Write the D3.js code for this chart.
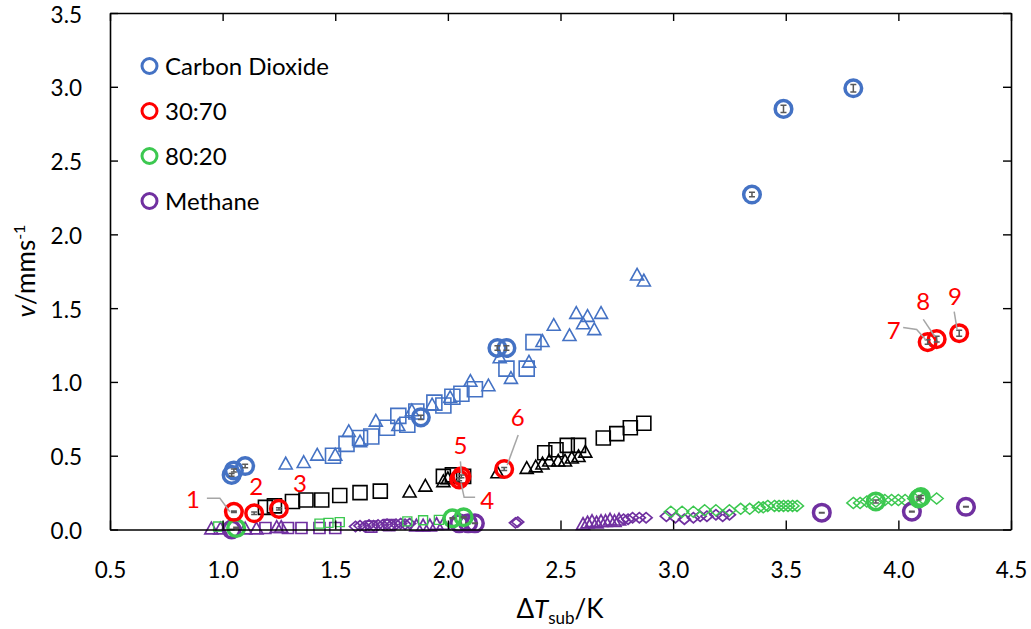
<!DOCTYPE html>
<html>
<head>
<meta charset="utf-8">
<script src="https://cdn.jsdelivr.net/npm/d3@7"></script>
<style>
  body { margin: 0; background: #fff; }
  svg text { font-family: Lato, "Open Sans", "Noto Sans", sans-serif; }
</style>
</head>
<body>
<svg id="chart" width="1031" height="629"></svg>
<script>
// ---------------- data ----------------
const xTickValues = [0.5, 1.0, 1.5, 2.0, 2.5, 3.0, 3.5, 4.0, 4.5];
const yTickValues = [0.0, 0.5, 1.0, 1.5, 2.0, 2.5, 3.0, 3.5];

const legendNames = ["Carbon Dioxide", "30:70", "80:20", "Methane"];

// Carbon dioxide: averaged points (circles) with error
const co2X   = [1.04, 1.05, 1.10, 1.88, 2.22, 2.26, 3.35, 3.49, 3.80];
const co2Y   = [0.37, 0.40, 0.43, 0.76, 1.23, 1.23, 2.27, 2.85, 2.99];
const co2Err = [0.010, 0.010, 0.012, 0.015, 0.015, 0.015, 0.015, 0.025, 0.025];

// 30:70 mixture: averaged points, numbered 1-9
const mixAX   = [1.05, 1.14, 1.25, 2.05, 2.06, 2.25, 4.13, 4.17, 4.27];
const mixAY   = [0.12, 0.11, 0.14, 0.34, 0.36, 0.41, 1.27, 1.29, 1.33];
const mixAErr = [0.005, 0.008, 0.008, 0.01, 0.01, 0.01, 0.015, 0.02, 0.02];
const mixALabels = ["1", "2", "3", "4", "5", "6", "7", "8", "9"];

// 80:20 mixture: averaged points
const mixBX   = [1.06, 2.02, 2.07, 3.90, 4.09, 4.10];
const mixBY   = [0.01, 0.076, 0.083, 0.19, 0.21, 0.22];
const mixBErr = [0.005, 0.004, 0.004, 0.01, 0.01, 0.01];

// Methane: averaged points
const ch4X   = [1.04, 2.05, 2.09, 2.12, 3.66, 4.06, 4.30];
const ch4Y   = [0.00, 0.042, 0.042, 0.042, 0.114, 0.121, 0.154];
const ch4Err = [0.002, 0.002, 0.002, 0.002, 0.002, 0.002, 0.002];

// Individual runs
const co2TriX = [1.28, 1.36, 1.42, 1.50, 1.56, 1.61, 1.68, 1.78, 1.84, 1.93, 2.01, 2.10, 2.18,
                 2.23, 2.28, 2.36, 2.42, 2.47, 2.54, 2.57, 2.60, 2.62, 2.65, 2.68, 2.84, 2.87];
const co2TriY = [0.45, 0.46, 0.51, 0.51, 0.67, 0.60, 0.74, 0.71, 0.81, 0.85, 0.90, 1.01, 0.98,
                 1.17, 1.03, 1.14, 1.28, 1.39, 1.32, 1.47, 1.40, 1.45, 1.36, 1.47, 1.73, 1.69];
const co2SqX = [1.49, 1.55, 1.61, 1.66, 1.73, 1.78, 1.82, 1.86, 1.94, 1.98, 2.02, 2.06, 2.12, 2.26, 2.35, 2.38];
const co2SqY = [0.50, 0.58, 0.62, 0.63, 0.69, 0.77, 0.71, 0.80, 0.86, 0.84, 0.90, 0.92, 0.95, 1.09, 1.09, 1.27];

const mixASqX = [1.19, 1.23, 1.31, 1.37, 1.44, 1.52, 1.61, 1.70, 1.98, 2.02, 2.07,
                 2.43, 2.48, 2.53, 2.58, 2.69, 2.75, 2.81, 2.87];
const mixASqY = [0.15, 0.16, 0.19, 0.20, 0.20, 0.23, 0.25, 0.26, 0.36, 0.37, 0.36,
                 0.52, 0.54, 0.57, 0.57, 0.62, 0.65, 0.69, 0.72];
const mixATriX = [1.83, 1.90, 1.98, 2.00, 2.22, 2.35, 2.39, 2.42, 2.45, 2.49, 2.52, 2.55, 2.58, 2.61];
const mixATriY = [0.26, 0.30, 0.33, 0.35, 0.39, 0.42, 0.43, 0.45, 0.47, 0.47, 0.47, 0.49, 0.50, 0.53];

const mixBSqX = [0.98, 1.43, 1.47, 1.52, 1.82, 1.89, 1.96];
const mixBSqY = [0.02, 0.04, 0.045, 0.05, 0.055, 0.063, 0.065];
const mixBDiaX = [2.99, 3.04, 3.09, 3.14, 3.19, 3.25, 3.30, 3.34, 3.38, 3.40, 3.42, 3.45, 3.47,
                  3.49, 3.51, 3.53, 3.55, 3.80, 3.83, 3.86, 3.90, 3.94, 3.97, 4.00, 4.03, 4.07, 4.11, 4.17];
const mixBDiaY = [0.12, 0.12, 0.12, 0.13, 0.13, 0.13, 0.14, 0.14, 0.15, 0.15, 0.16, 0.16, 0.16,
                  0.16, 0.16, 0.16, 0.16, 0.18, 0.18, 0.19, 0.19, 0.20, 0.20, 0.20, 0.20, 0.21, 0.21, 0.21];

const ch4TriX = [0.95, 0.99, 1.10, 1.15, 1.24, 1.26, 1.86, 1.89, 1.92, 1.95, 1.98,
                 2.60, 2.62, 2.64, 2.66, 2.68, 2.70, 2.72, 2.74, 2.76];
const ch4TriY = [0.01, 0.01, 0.01, 0.01, 0.02, 0.02, 0.03, 0.03, 0.03, 0.04, 0.04,
                 0.04, 0.05, 0.06, 0.05, 0.06, 0.06, 0.07, 0.06, 0.07];
const ch4SqX = [1.19, 1.29, 1.35, 1.43, 1.50, 1.66, 1.74];
const ch4SqY = [0.01, 0.01, 0.01, 0.01, 0.01, 0.02, 0.03];
const ch4DiaX = [1.59, 1.61, 1.63, 1.65, 1.67, 1.69, 1.71, 1.73, 1.75, 1.77, 1.79, 1.81, 1.83,
                 2.30, 2.31, 2.78, 2.80, 2.82, 2.85, 2.88, 2.97, 3.01, 3.05, 3.09, 3.12, 3.15, 3.19, 3.22, 3.25];
const ch4DiaY = [0.02, 0.025, 0.02, 0.03, 0.025, 0.03, 0.03, 0.035, 0.03, 0.035, 0.04, 0.035, 0.04,
                 0.045, 0.05, 0.07, 0.07, 0.08, 0.08, 0.08, 0.09, 0.08, 0.07, 0.08, 0.09, 0.09, 0.10, 0.09, 0.10];

// ---------------- layout ----------------
const COLORS = { co2: "#4472C4", mixA: "#FF0000", mixB: "#3CC850", ch4: "#7030A0", black: "#000000" };
const svg = d3.select("#chart");
const x = d3.scaleLinear().domain([0.5, 4.5]).range([110, 1011]);
const y = d3.scaleLinear().domain([0, 3.5]).range([529.5, 13]);

const zip = (xs, ys) => xs.map((v, i) => ({ x: v, y: ys[i] }));

// marker shapes (centred on the origin)
const shapes = {
  tri: (w) => { const h = w * 0.9; return `M0,${-h/2}L${w/2},${h/2}L${-w/2},${h/2}Z`; },
  sq:  (s) => `M${-s/2},${-s/2}H${s/2}V${s/2}H${-s/2}Z`,
  dia: (w) => { const h = w * 0.85; return `M0,${-h/2}L${w/2},0L0,${h/2}L${-w/2},0Z`; }
};

function drawMarkers(data, shape, size, color, sw) {
  svg.append("g").selectAll("path").data(data).join("path")
    .attr("d", shapes[shape](size))
    .attr("transform", d => `translate(${x(d.x)},${y(d.y)})`)
    .attr("fill", "none").attr("stroke", color).attr("stroke-width", sw);
}

// small markers: individual runs
drawMarkers(zip(ch4TriX, ch4TriY), "tri", 13, COLORS.ch4, 1.7);
drawMarkers(zip(ch4SqX, ch4SqY), "sq", 11, COLORS.ch4, 1.7);
drawMarkers(zip(ch4DiaX, ch4DiaY), "dia", 12, COLORS.ch4, 1.7);
drawMarkers(zip(mixBSqX, mixBSqY), "sq", 9, COLORS.mixB, 1.4);
drawMarkers(zip(mixBDiaX, mixBDiaY), "dia", 13, COLORS.mixB, 1.5);
drawMarkers(zip(mixASqX, mixASqY), "sq", 14, COLORS.black, 1.6);
drawMarkers(zip(mixATriX, mixATriY), "tri", 13, COLORS.black, 1.6);
drawMarkers(zip(co2SqX, co2SqY), "sq", 15, COLORS.co2, 1.6);
drawMarkers(zip(co2TriX, co2TriY), "tri", 13, COLORS.co2, 1.6);

// averaged points: thick open circles with error bars
function drawCircles(xs, ys, errs, color) {
  const data = xs.map((v, i) => ({ x: v, y: ys[i], e: errs[i] }));
  const g = svg.append("g");
  g.selectAll("circle").data(data).join("circle")
    .attr("cx", d => x(d.x)).attr("cy", d => y(d.y)).attr("r", 8.3)
    .attr("fill", "none").attr("stroke", color).attr("stroke-width", 3.5);
  g.selectAll("path.err").data(data).join("path").attr("class", "err")
    .attr("d", d => {
      const cx = x(d.x), y0 = y(d.y - d.e), y1 = y(d.y + d.e), c = 3;
      return `M${cx},${y0}V${y1}M${cx - c},${y0}H${cx + c}M${cx - c},${y1}H${cx + c}`;
    })
    .attr("fill", "none").attr("stroke", "#595959").attr("stroke-width", 1.5);
}
drawCircles(ch4X, ch4Y, ch4Err, COLORS.ch4);
drawCircles(mixBX, mixBY, mixBErr, COLORS.mixB);
drawCircles(co2X, co2Y, co2Err, COLORS.co2);
drawCircles(mixAX, mixAY, mixAErr, COLORS.mixA);

// numbered labels for the 30:70 points: text offset and leader line (pixels, relative to point)
const labelOffsets = [[-41, -12], [2, -27], [21, -25], [28, 21], [-1, -31], [13.5, -52], [-34, -12], [-13.4, -37.4], [-4.3, -36.5]];
const leaderLines = [
  [[-27, -13.5], [-14, -13.5], [-4, 0]],
  null,
  null,
  [[16, 18], [5, 18], [2, 4]],
  [[-1, -15], [0, -3]],
  [[14, -34], [3, -4]],
  [[-24.5, -14.7], [-11, -12.7], [-1.7, -2]],
  [[-13.4, -19.8], [-1.7, -2.4]],
  [[-5, -21.5], [-2, -3.2]]
];
const lab = svg.append("g");
mixALabels.forEach((t, i) => {
  const cx = x(mixAX[i]), cy = y(mixAY[i]);
  if (leaderLines[i]) {
    lab.append("path")
      .attr("d", d3.line()(leaderLines[i].map(p => [cx + p[0], cy + p[1]])))
      .attr("fill", "none").attr("stroke", "#A6A6A6").attr("stroke-width", 1.5);
  }
  lab.append("text")
    .attr("x", cx + labelOffsets[i][0]).attr("y", cy + labelOffsets[i][1])
    .attr("dy", "0.36em").attr("text-anchor", "middle")
    .attr("fill", COLORS.mixA).attr("font-size", 24).text(t);
});

// ---------------- axes ----------------
const fmt = d3.format(".1f");
const axB = svg.append("g").attr("transform", `translate(0,${y(0)})`)
  .call(d3.axisBottom(x).tickValues(xTickValues).tickFormat(fmt).tickSizeInner(-9).tickSizeOuter(0).tickPadding(33));
const axL = svg.append("g").attr("transform", `translate(${x(0.5)},0)`)
  .call(d3.axisLeft(y).tickValues(yTickValues).tickFormat(fmt).tickSizeInner(-8).tickSizeOuter(0).tickPadding(28));
const axT = svg.append("g").attr("transform", `translate(0,${y(3.5)})`)
  .call(d3.axisTop(x).tickValues(xTickValues).tickFormat("").tickSizeInner(-8).tickSizeOuter(0));
const axR = svg.append("g").attr("transform", `translate(${x(4.5)},0)`)
  .call(d3.axisRight(y).tickValues(yTickValues).tickFormat("").tickSizeInner(-8).tickSizeOuter(0));
[axB, axL, axT, axR].forEach(a => {
  a.select(".domain").attr("stroke", "#000").attr("stroke-width", 1.6);
  a.selectAll(".tick line").attr("stroke", "#000").attr("stroke-width", 1.4);
  a.selectAll("text").attr("font-size", 22.5).attr("fill", "#000")
    .style("font-family", "Lato, 'Open Sans', sans-serif");
});
axL.selectAll("text").attr("dy", "0.4em");

// axis titles
const yt = svg.append("text")
  .attr("transform", "translate(35,271) rotate(-90)")
  .attr("text-anchor", "middle").attr("font-size", 26).attr("fill", "#000");
yt.append("tspan").attr("font-style", "italic").text("v");
yt.append("tspan").text("/mms");
yt.append("tspan").attr("font-size", 16).attr("dy", -10).text("-1");

const xt = svg.append("text")
  .attr("x", 560).attr("y", 618)
  .attr("text-anchor", "middle").attr("font-size", 26).attr("fill", "#000");
xt.append("tspan").text("Δ");
xt.append("tspan").attr("font-style", "italic").text("T");
xt.append("tspan").attr("font-size", 17).attr("dy", 6).text("sub");
xt.append("tspan").attr("dy", -6).text("/K");

// ---------------- legend ----------------
const legColors = [COLORS.co2, COLORS.mixA, COLORS.mixB, COLORS.ch4];
const legY = [66, 111, 156, 201];
const leg = svg.append("g");
legendNames.forEach((n, i) => {
  leg.append("circle").attr("cx", 149.5).attr("cy", legY[i]).attr("r", 7.5)
    .attr("fill", "none").attr("stroke", legColors[i]).attr("stroke-width", 3);
  leg.append("text").attr("x", 165).attr("y", legY[i]).attr("dy", "0.36em")
    .attr("font-size", 24).attr("fill", "#000").text(n);
});
</script>
</body>
</html>
